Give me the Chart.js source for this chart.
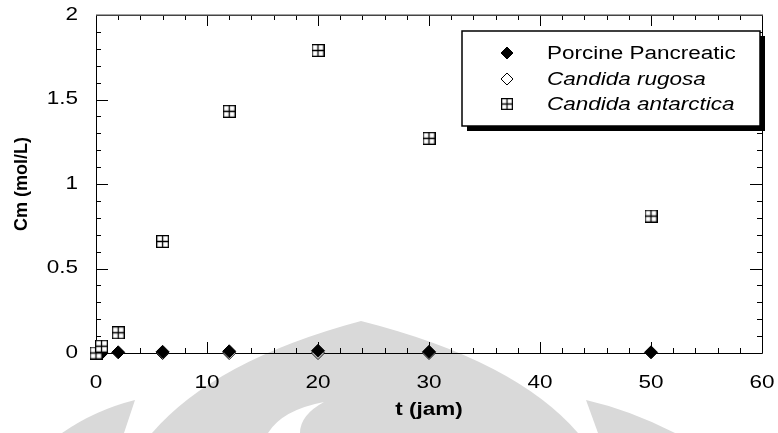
<!DOCTYPE html>
<html>
<head>
<meta charset="utf-8">
<script src="https://cdn.jsdelivr.net/npm/chart.js@4.4.1/dist/chart.umd.min.js"></script>
<style>
  html, body { margin: 0; padding: 0; background: #fff; }
  canvas { display: block; }
</style>
</head>
<body>
<canvas id="c" width="778" height="433"></canvas>
<script>
// Monomer concentration over time for three lipases
const seriesNames = ['Porcine Pancreatic', 'Candida rugosa', 'Candida antarctica'];
const italicNames = [false, true, true];

const porcineT = [0.5, 2, 6, 12, 20, 30, 50];
const porcineCm = [0, 0.004, 0.007, 0.010, 0.013, 0.007, 0.004];

const rugosaT = [0.5, 6, 12, 20, 30];
const rugosaCm = [0, 0.0, 0.0, 0.0, 0.0];

const antarcticaT = [0, 0.5, 2, 6, 12, 20, 30, 50];
const antarcticaCm = [0, 0.04, 0.12, 0.66, 1.43, 1.79, 1.27, 0.81];

const xTickLabels = ['0', '10', '20', '30', '40', '50', '60'];
const yTickLabels = ['0', '0.5', '1', '1.5', '2'];
const xTitle = 't (jam)';
const yTitle = 'Cm (mol/L)';

const FONT = "'Liberation Sans', Arial, Helvetica, sans-serif";
const STRETCH = 1.25; // horizontal text widening

const canvas = document.getElementById('c');
const ctx = canvas.getContext('2d');

// Widen horizontal text; rotated text is drawn as is
const plainFillText = ctx.fillText.bind(ctx);
ctx.fillText = function (text, x, y, maxWidth) {
  const m = this.getTransform();
  if (Math.abs(m.b) > 1e-6 || Math.abs(m.c) > 1e-6) {
    return maxWidth === undefined ? plainFillText(text, x, y) : plainFillText(text, x, y, maxWidth);
  }
  this.save();
  this.translate(x, y);
  this.scale(STRETCH, 1);
  if (maxWidth === undefined) plainFillText(text, 0, 0);
  else plainFillText(text, 0, 0, maxWidth);
  this.restore();
};

function toPoints(xs, ys) {
  return xs.map((x, i) => ({ x: x, y: ys[i] }));
}

// Square-with-cross marker
function makeCrossSquare() {
  const s = 13;
  const c = document.createElement('canvas');
  c.width = s; c.height = s;
  const g = c.getContext('2d');
  g.fillStyle = '#fff';
  g.fillRect(0, 0, s, s);
  g.strokeStyle = '#000';
  g.lineWidth = 1.3;
  g.strokeRect(0.65, 0.65, s - 1.3, s - 1.3);
  g.beginPath();
  g.moveTo(s / 2, 0.5); g.lineTo(s / 2, s - 0.5);
  g.moveTo(0.5, s / 2); g.lineTo(s - 0.5, s / 2);
  g.stroke();
  return c;
}
const crossSquare = makeCrossSquare();

// Light emblem shapes behind the plot
const emblemPlugin = {
  id: 'emblem',
  beforeDraw(chart) {
    const g = chart.ctx;
    g.save();
    g.fillStyle = '#fff';
    g.fillRect(0, 0, chart.width, chart.height);
    g.fillStyle = '#d9d9d9';
    // central pointed dome
    g.beginPath();
    g.moveTo(361, 321);
    g.quadraticCurveTo(215, 360, 152, 433);
    g.lineTo(578, 433);
    g.quadraticCurveTo(515, 360, 361, 321);
    g.closePath();
    g.fill();
    // left petal
    g.beginPath();
    g.moveTo(135, 400);
    g.quadraticCurveTo(95, 410, 62, 433);
    g.lineTo(124, 433);
    g.closePath();
    g.fill();
    // right petal
    g.beginPath();
    g.moveTo(586, 400);
    g.quadraticCurveTo(630, 410, 675, 433);
    g.lineTo(598, 433);
    g.closePath();
    g.fill();
    // inner light cut
    g.fillStyle = '#fff';
    g.beginPath();
    g.moveTo(268, 433);
    g.quadraticCurveTo(282, 410, 324, 402);
    g.quadraticCurveTo(300, 415, 300, 433);
    g.closePath();
    g.fill();
    g.restore();
  }
};

// Frame with inward tick marks on all four sides
const framePlugin = {
  id: 'frame',
  beforeDatasetsDraw(chart) {
    const g = chart.ctx;
    const xs = chart.scales.x, ys = chart.scales.y;
    const a = chart.chartArea;
    g.save();
    g.lineWidth = 1;
    g.strokeStyle = '#000';
    for (let v = 0; v <= 60; v += 2) {
      const px = Math.round(xs.getPixelForValue(v)) + 0.5;
      const len = (v % 10 === 0) ? 11 : 5;
      g.beginPath();
      g.moveTo(px, a.bottom); g.lineTo(px, a.bottom - len);
      g.moveTo(px, a.top); g.lineTo(px, a.top + len);
      g.stroke();
    }
    for (let i = 0; i <= 20; i++) {
      const py = Math.round(ys.getPixelForValue(i / 10)) + 0.5;
      const len = (i % 5 === 0) ? 12 : 5;
      g.beginPath();
      g.moveTo(a.left, py); g.lineTo(a.left + len, py);
      g.moveTo(a.right, py); g.lineTo(a.right - len, py);
      g.stroke();
    }
    g.beginPath();
    g.moveTo(Math.round(a.left) + 0.5, a.top);
    g.lineTo(Math.round(a.left) + 0.5, Math.round(a.bottom) + 0.5);
    g.lineTo(Math.round(a.right) + 0.5, Math.round(a.bottom) + 0.5);
    g.lineTo(Math.round(a.right) + 0.5, a.top);
    g.stroke();
    g.strokeStyle = '#444';
    g.lineWidth = 1.5;
    g.beginPath();
    g.moveTo(a.left, Math.round(a.top) + 0.25);
    g.lineTo(a.right + 1, Math.round(a.top) + 0.25);
    g.stroke();
    g.restore();
  }
};

// Boxed legend with drop shadow inside the plot
const legendBoxPlugin = {
  id: 'legendBox',
  afterDraw(chart) {
    const g = chart.ctx;
    const bx = 462, by = 31, bw = 298, bh = 95, sh = 5;
    g.save();
    g.fillStyle = '#000';
    g.fillRect(bx + sh, by + sh, bw, bh);
    g.fillStyle = '#fff';
    g.fillRect(bx, by, bw, bh);
    g.strokeStyle = '#000';
    g.lineWidth = 1.5;
    g.strokeRect(bx, by, bw, bh);
    const rows = [53, 79, 104];
    const mx = 507, tx = 547;
    chart.data.datasets.forEach((ds, i) => {
      const y = rows[i];
      if (ds.pointStyle === 'rectRot') {
        g.beginPath();
        g.moveTo(mx - 6, y); g.lineTo(mx, y - 6); g.lineTo(mx + 6, y); g.lineTo(mx, y + 6);
        g.closePath();
        g.fillStyle = ds.pointBackgroundColor;
        g.fill();
        g.strokeStyle = '#000';
        g.lineWidth = 1;
        g.stroke();
      } else {
        g.drawImage(ds.pointStyle, mx - 6, y - 6, 12, 12);
      }
      g.fillStyle = '#000';
      g.textBaseline = 'middle';
      g.textAlign = 'left';
      g.font = (italicNames[i] ? 'italic ' : '') + '18px ' + FONT;
      g.fillText(ds.label, tx, y + 1);
    });
    g.restore();
  }
};

new Chart(ctx, {
  type: 'scatter',
  data: {
    datasets: [
      {
        label: seriesNames[0],
        data: toPoints(porcineT, porcineCm),
        pointStyle: 'rectRot',
        pointRadius: 6.5,
        pointBackgroundColor: '#000',
        pointBorderColor: '#000',
        pointBorderWidth: 1,
        order: 1,
        clip: false
      },
      {
        label: seriesNames[1],
        data: toPoints(rugosaT, rugosaCm),
        pointStyle: 'rectRot',
        pointRadius: 6.5,
        pointBackgroundColor: '#fff',
        pointBorderColor: '#000',
        pointBorderWidth: 1,
        order: 2,
        clip: false
      },
      {
        label: seriesNames[2],
        data: toPoints(antarcticaT, antarcticaCm),
        pointStyle: crossSquare,
        order: 0,
        clip: false
      }
    ]
  },
  options: {
    responsive: false,
    animation: false,
    devicePixelRatio: 1,
    layout: { padding: { top: 15, right: 16, left: 0, bottom: 0 } },
    plugins: {
      legend: { display: false },
      tooltip: { enabled: false }
    },
    scales: {
      x: {
        type: 'linear',
        min: 0, max: 60,
        grid: { display: false, drawTicks: false },
        border: { display: false },
        ticks: {
          stepSize: 10,
          padding: 19,
          color: '#000',
          font: { family: FONT, size: 18 },
          maxRotation: 0,
          callback: (v) => xTickLabels[Math.round(v / 10)]
        },
        title: {
          display: true,
          text: xTitle,
          color: '#000',
          font: { family: FONT, size: 18, weight: 'bold' },
          padding: { top: 4, bottom: 12 }
        },
        afterFit(scale) {
          scale.height = 80;
          scale.paddingLeft = 0;
          scale.paddingRight = 0;
        }
      },
      y: {
        type: 'linear',
        min: 0, max: 2,
        grid: { display: false, drawTicks: false },
        border: { display: false },
        ticks: {
          stepSize: 0.5,
          padding: 18,
          color: '#000',
          font: { family: FONT, size: 18 },
          callback: (v) => yTickLabels[Math.round(v * 2)]
        },
        title: {
          display: true,
          text: yTitle,
          color: '#000',
          font: { family: FONT, size: 18, weight: 'bold' },
          padding: { top: 11, bottom: 0 }
        },
        afterFit(scale) {
          scale.width = 96;
          scale.paddingTop = 0;
          scale.paddingBottom = 0;
        }
      }
    }
  },
  plugins: [emblemPlugin, framePlugin, legendBoxPlugin]
});
</script>
</body>
</html>
